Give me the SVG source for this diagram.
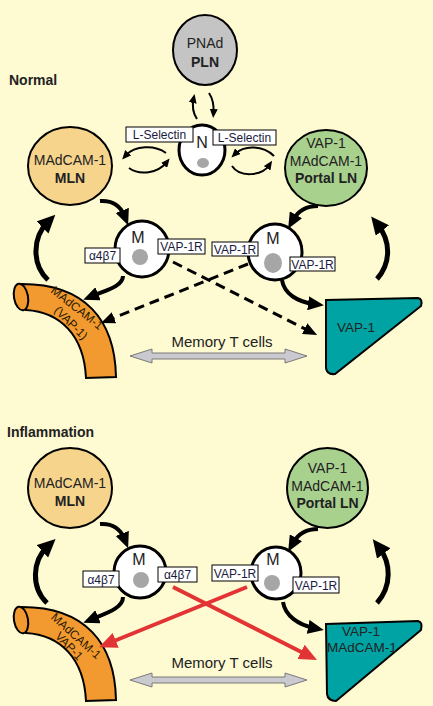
<svg xmlns="http://www.w3.org/2000/svg" width="433" height="706" viewBox="0 0 433 706">
<defs>
<style>
.t{font-family:"Liberation Sans",Arial,sans-serif;fill:#222;}
.nt{font-size:14px;text-anchor:middle;}
.b{font-weight:bold;}
.lb{fill:#fff;stroke:#000;stroke-width:1;}
.lt{font-family:"Liberation Sans",Arial,sans-serif;font-size:12px;fill:#1a1a40;text-anchor:middle;}
.cell{fill:#fff;stroke:#000;stroke-width:3;}
.nuc{fill:#a6a6a6;}
.ln{fill:none;stroke:#000;stroke-width:4;}
.big{fill:none;stroke:#000;stroke-width:5;}
.sm{fill:none;stroke:#000;stroke-width:2;}
.dash{fill:none;stroke:#000;stroke-width:3;stroke-dasharray:10 6;}
.red{fill:none;stroke:#e23434;stroke-width:4;}
.gut{fill:#f29a30;stroke:#000;stroke-width:2;}
.liver{fill:#00a3a3;stroke:#000;stroke-width:2;}
.dbl{fill:#c9c9cf;stroke:#7a7a7a;stroke-width:1;}
.gt{font-family:"Liberation Sans",Arial,sans-serif;font-size:12px;fill:#2a1a00;text-anchor:middle;dominant-baseline:central;}
</style>
<marker id="hb" viewBox="0 0 16 14" refX="6" refY="7" markerWidth="16" markerHeight="14" orient="auto" markerUnits="userSpaceOnUse"><path d="M0,0 L16,7 L0,14 Z" fill="#000"/></marker>
<marker id="hl" viewBox="0 0 18 17" refX="7" refY="8.5" markerWidth="18" markerHeight="17" orient="auto" markerUnits="userSpaceOnUse"><path d="M0,0 L18,8.5 L0,17 Z" fill="#000"/></marker>
<marker id="hs" viewBox="0 0 9 8" refX="4" refY="4" markerWidth="9" markerHeight="8" orient="auto" markerUnits="userSpaceOnUse"><path d="M0,0 L9,4 L0,8 Z" fill="#000"/></marker>
<marker id="hd" viewBox="0 0 14 12" refX="6" refY="6" markerWidth="14" markerHeight="12" orient="auto" markerUnits="userSpaceOnUse"><path d="M0,0 L14,6 L0,12 Z" fill="#000"/></marker>
<marker id="hr" viewBox="0 0 18 16" refX="7" refY="8" markerWidth="18" markerHeight="16" orient="auto" markerUnits="userSpaceOnUse"><path d="M0,0 L18,8 L0,16 Z" fill="#e23434"/></marker>
</defs>
<rect width="433" height="706" fill="#fefad2"/>

<text class="t b" x="9" y="85" font-size="14">Normal</text>
<text class="t b" x="7" y="437" font-size="14">Inflammation</text>

<!-- Normal nodes -->
<g id="pln">
<ellipse cx="205" cy="50" rx="32" ry="35" fill="#c4c4c4" stroke="#000" stroke-width="2"/>
<text class="t nt" x="205" y="48">PNAd</text>
<text class="t nt b" x="205" y="67">PLN</text>
</g>
<g id="mln-normal">
<ellipse cx="70" cy="166" rx="42" ry="39" fill="#f6d48c" stroke="#000" stroke-width="2"/>
<text class="t nt" x="70" y="165">MAdCAM-1</text>
<text class="t nt b" x="70" y="183">MLN</text>
</g>
<g id="portal-normal">
<ellipse cx="326" cy="168" rx="41" ry="38" fill="#a9d18e" stroke="#000" stroke-width="2"/>
<text class="t nt" x="326" y="148">VAP-1</text>
<text class="t nt" x="326" y="166">MAdCAM-1</text>
<text class="t nt b" x="326" y="183">Portal LN</text>
</g>
<g id="gut-normal">
<path class="gut" d="M22,284 C85,284 115,320 116,377 L86,378 C84,335 60,312 26,310 Z"/>
<ellipse class="gut" cx="21" cy="297" rx="7" ry="13.5" transform="rotate(-10 21 297)"/>
<text class="gt" transform="translate(77 308) rotate(38)">MAdCAM-1</text>
<text class="gt" transform="translate(71 323) rotate(45)">(VAP-1)</text>
</g>
<g id="liver-normal">
<path class="liver" d="M326,300 L418,298 Q423,299 421,306 L335,374 Q327,375 326,368 Z"/>
<text class="t" x="337" y="332" font-size="13.5">VAP-1</text>
</g>

<!-- Inflammation nodes -->
<g id="mln-infl">
<ellipse cx="70" cy="488" rx="42" ry="40" fill="#f6d48c" stroke="#000" stroke-width="2"/>
<text class="t nt" x="70" y="488">MAdCAM-1</text>
<text class="t nt b" x="70" y="506">MLN</text>
</g>
<g id="portal-infl">
<ellipse cx="327.5" cy="488" rx="40.5" ry="40" fill="#a9d18e" stroke="#000" stroke-width="2"/>
<text class="t nt" x="327.5" y="473">VAP-1</text>
<text class="t nt" x="327.5" y="491">MAdCAM-1</text>
<text class="t nt b" x="327.5" y="508">Portal LN</text>
</g>
<g id="gut-infl">
<path class="gut" d="M22,607 C85,607 115,643 116,700 L86,701 C84,658 60,635 26,633 Z"/>
<ellipse class="gut" cx="21" cy="620" rx="7" ry="13.5" transform="rotate(-10 21 620)"/>
<text class="gt" transform="translate(76 636) rotate(42)">MAdCAM-1</text>
<text class="gt" transform="translate(69 646) rotate(46)">VAP-1</text>
</g>
<g id="liver-infl">
<path class="liver" d="M326,624 L418,621 Q423,622 421,630 L336,701 Q328,701 327,694 Z"/>
<text class="t" x="342" y="636" font-size="13.5">VAP-1</text>
<text class="t" x="327" y="652" font-size="13.5">MAdCAM-1</text>
</g>

<!-- Cells -->
<g id="n-cell">
<ellipse class="cell" cx="202" cy="150" rx="23" ry="25"/>
<ellipse class="nuc" cx="203" cy="163" rx="6" ry="5"/>
<text class="t" x="202" y="148" font-size="16" text-anchor="middle" fill="#1a1a40">N</text>
</g>
<g id="m-normal-left">
<ellipse class="cell" cx="142" cy="249" rx="27" ry="28"/>
<circle class="nuc" cx="140" cy="257" r="8"/>
<text class="t" x="138" y="243" font-size="16" text-anchor="middle" fill="#1a1a40">M</text>
</g>
<g id="m-normal-right">
<ellipse class="cell" cx="275" cy="252" rx="27" ry="28"/>
<ellipse class="nuc" cx="273" cy="263" rx="9" ry="10"/>
<text class="t" x="273" y="244" font-size="16" text-anchor="middle" fill="#1a1a40">M</text>
</g>
<g id="m-infl-left">
<ellipse class="cell" cx="140" cy="572" rx="26" ry="26"/>
<circle class="nuc" cx="141" cy="580" r="8"/>
<text class="t" x="139" y="565" font-size="16" text-anchor="middle" fill="#1a1a40">M</text>
</g>
<g id="m-infl-right">
<ellipse class="cell" cx="276" cy="573" rx="25" ry="26"/>
<circle class="nuc" cx="272" cy="583" r="8"/>
<text class="t" x="273" y="565" font-size="16" text-anchor="middle" fill="#1a1a40">M</text>
</g>

<!-- Connectors -->
<g id="connectors">
<!-- N cell interactions -->
<path class="sm" d="M197,119 C193,113 192,106 193.5,99" marker-end="url(#hs)"/>
<path class="sm" d="M209,93 C213,99 214,106 213.5,113" marker-end="url(#hs)"/>
<path class="sm" d="M166,153 C155,145 135,145 125.5,155.7" marker-end="url(#hs)"/>
<path class="sm" d="M129,168 C140,176 158,173 166.5,162.3" marker-end="url(#hs)"/>
<path class="sm" d="M274,156 C263,145 244,145 235,154" marker-end="url(#hs)"/>
<path class="sm" d="M232,166 C240,178 262,176 269.3,165" marker-end="url(#hs)"/>
<!-- Normal -->
<path class="ln" d="M100,201 C113,200 121,207 124.5,216" marker-end="url(#hb)"/>
<path class="ln" d="M123,276 C123,286 107,290 92.5,296" marker-end="url(#hb)"/>
<path class="big" d="M48,280 C32,265 32,238 47.5,222.6" marker-end="url(#hl)"/>
<path class="ln" d="M318,206 C307,206 298,211 293,220" marker-end="url(#hb)"/>
<path class="ln" d="M282,280 C284,294 298,302 314,304" marker-end="url(#hb)"/>
<path class="big" d="M377,279 C392,262 390,240 378,225" marker-end="url(#hl)"/>
<path class="dash" d="M173,262 L310,331.4" marker-end="url(#hd)"/>
<path class="dash" d="M248,264 L108.4,320" marker-end="url(#hd)"/>
<!-- Inflammation -->
<path class="ln" d="M100,524 C113,523 121,530 124.5,539" marker-end="url(#hb)"/>
<path class="ln" d="M123,597 C123,608 107,613 92.5,619" marker-end="url(#hb)"/>
<path class="big" d="M47,603 C31,588 32,561 47.5,546.6" marker-end="url(#hl)"/>
<path class="ln" d="M318,529 C307,529 298,534 293,543" marker-end="url(#hb)"/>
<path class="ln" d="M283,602 C285,616 299,625 314,628" marker-end="url(#hb)"/>
<path class="big" d="M377,603 C392,586 391,563 379.5,548" marker-end="url(#hl)"/>
<path class="red" d="M173,587 L307.2,655" marker-end="url(#hr)"/>
<path class="red" d="M247,587 L109.2,643" marker-end="url(#hr)"/>
<!-- Memory T cells double arrows -->
<polygon class="dbl" points="130,356 152,349 152,353 285,353 285,349 307,356 285,363 285,359 152,359 152,363"/>
<polygon class="dbl" points="130,680 152,673 152,677 285,677 285,673 307,680 285,687 285,683 152,683 152,687"/>
</g>

<g id="memory-labels">
<text class="t" x="222" y="347" font-size="15" text-anchor="middle">Memory T cells</text>
<text class="t" x="222" y="668" font-size="15" text-anchor="middle">Memory T cells</text>
</g>

<!-- Label boxes -->
<g id="lbl-lsel-left"><rect class="lb" x="126" y="127" width="67" height="15"/><text class="lt" x="159.5" y="139">L-Selectin</text></g>
<g id="lbl-lsel-right"><rect class="lb" x="213" y="130" width="63" height="15"/><text class="lt" x="244.5" y="142">L-Selectin</text></g>
<g id="lbl-a4b7-n"><rect class="lb" x="85" y="248" width="35" height="15"/><text class="lt" x="102.5" y="260">α4β7</text></g>
<g id="lbl-vap1r-n1"><rect class="lb" x="158" y="239" width="47" height="15"/><text class="lt" x="181.5" y="251">VAP-1R</text></g>
<g id="lbl-vap1r-n2"><rect class="lb" x="212" y="242" width="46" height="14"/><text class="lt" x="235" y="253.5">VAP-1R</text></g>
<g id="lbl-vap1r-n3"><rect class="lb" x="290" y="257" width="45" height="14"/><text class="lt" x="312.5" y="268.5">VAP-1R</text></g>
<g id="lbl-a4b7-i1"><rect class="lb" x="83" y="571" width="36" height="16"/><text class="lt" x="101" y="583.5">α4β7</text></g>
<g id="lbl-a4b7-i2"><rect class="lb" x="158" y="567" width="39" height="15"/><text class="lt" x="177.5" y="579">α4β7</text></g>
<g id="lbl-vap1r-i1"><rect class="lb" x="212" y="565" width="46" height="16"/><text class="lt" x="235" y="577.5">VAP-1R</text></g>
<g id="lbl-vap1r-i2"><rect class="lb" x="293" y="577" width="46" height="16"/><text class="lt" x="316" y="589.5">VAP-1R</text></g>
</svg>
